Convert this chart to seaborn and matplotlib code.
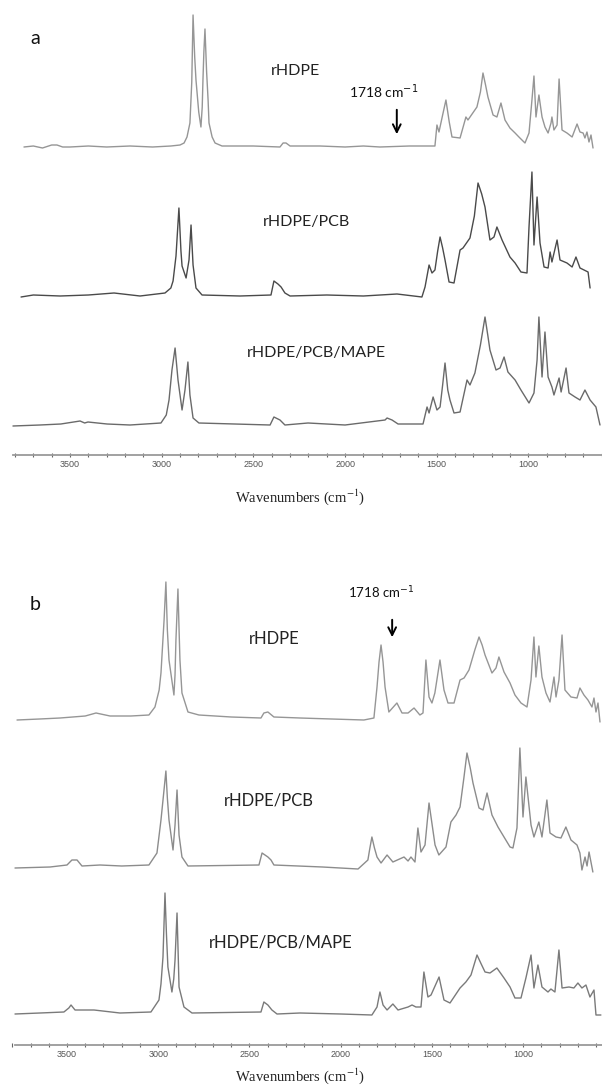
import numpy as np
import pandas as pd
import matplotlib
matplotlib.use("Agg")
import matplotlib.pyplot as plt
from matplotlib.ticker import MultipleLocator
import seaborn as sns

# ---------------- FTIR spectra (wavenumber in cm-1, absorbance in a.u.) ----------------
# panel a
a_rhdpe_wn = [3751, 3700, 3650, 3600, 3571, 3540, 3500, 3400, 3300, 3173, 3050, 2950, 2900, 2878,
              2862, 2846, 2836, 2829, 2820, 2813, 2798, 2786, 2779, 2775, 2770, 2764, 2755, 2747,
              2742, 2725, 2709, 2671, 2500, 2355, 2338, 2322, 2300, 2137, 2000, 1900, 1810, 1650,
              1537, 1510, 1499, 1488, 1468, 1450, 1432, 1417, 1373, 1341, 1330, 1281, 1262, 1248,
              1234, 1221, 1193, 1172, 1150, 1128, 1101, 1073, 1052, 1019, 997, 981, 970, 959, 943,
              926, 910, 893, 877, 872, 861, 844, 833, 817, 790, 762, 735, 719, 702, 692, 681, 670,
              659, 648]
a_rhdpe_abs = [0.00, 0.01, -0.01, 0.02, 0.02, 0.00, 0.00, 0.01, 0.00, 0.01, 0.00, 0.01, 0.02, 0.04,
               0.10, 0.24, 0.65, 1.32, 0.90, 0.67, 0.35, 0.20, 0.40, 0.67, 0.95, 1.18, 0.75, 0.47,
               0.24, 0.10, 0.04, 0.01, 0.01, 0.00, 0.04, 0.04, 0.01, 0.01, 0.00, 0.01, 0.00, 0.01,
               0.01, 0.01, 0.22, 0.15, 0.32, 0.47, 0.25, 0.10, 0.09, 0.30, 0.27, 0.40, 0.55, 0.74,
               0.62, 0.50, 0.32, 0.30, 0.44, 0.27, 0.19, 0.14, 0.10, 0.04, 0.14, 0.47, 0.71, 0.30,
               0.52, 0.30, 0.20, 0.14, 0.24, 0.30, 0.17, 0.22, 0.68, 0.17, 0.14, 0.10, 0.23, 0.15,
               0.14, 0.09, 0.15, 0.05, 0.12, -0.01]

a_pcb_wn = [3767, 3700, 3554, 3400, 3260, 3118, 2982, 2950, 2938, 2922, 2906, 2895, 2889, 2867,
            2851, 2840, 2829, 2813, 2780, 2573, 2404, 2388, 2366, 2349, 2328, 2300, 2100, 1900,
            1717, 1581, 1564, 1542, 1526, 1510, 1495, 1482, 1468, 1455, 1433, 1406, 1373, 1357,
            1319, 1295, 1275, 1255, 1237, 1210, 1188, 1172, 1144, 1101, 1073, 1041, 1008, 997, 981,
            970, 953, 937, 915, 893, 882, 872, 844, 828, 790, 762, 741, 719, 697, 675, 664]
a_pcb_abs = [-0.01, 0.01, 0.00, 0.01, 0.03, 0.00, 0.03, 0.08, 0.15, 0.40, 0.88, 0.45, 0.30, 0.18,
             0.36, 0.71, 0.31, 0.08, 0.01, 0.00, 0.01, 0.15, 0.12, 0.09, 0.03, 0.00, 0.01, 0.00,
             0.02, -0.01, 0.09, 0.31, 0.23, 0.26, 0.45, 0.59, 0.48, 0.36, 0.14, 0.13, 0.46, 0.48,
             0.58, 0.80, 1.13, 1.02, 0.89, 0.56, 0.59, 0.69, 0.56, 0.39, 0.33, 0.24, 0.23, 0.69,
             1.24, 0.51, 0.99, 0.53, 0.29, 0.28, 0.44, 0.34, 0.56, 0.36, 0.33, 0.29, 0.39, 0.28,
             0.26, 0.24, 0.08]

a_mape_wn = [3811, 3664, 3550, 3445, 3420, 3402, 3298, 3173, 3004, 2975, 2960, 2944, 2927, 2911,
             2889, 2873, 2857, 2846, 2829, 2797, 2409, 2388, 2355, 2328, 2202, 2000, 1782, 1771,
             1744, 1711, 1575, 1553, 1542, 1520, 1499, 1482, 1468, 1455, 1440, 1428, 1406, 1373,
             1335, 1319, 1292, 1262, 1237, 1222, 1210, 1177, 1155, 1133, 1112, 1073, 1041, 997,
             970, 953, 943, 926, 910, 893, 872, 861, 833, 822, 795, 779, 746, 719, 692, 664, 632,
             610]
a_mape_abs = [-0.01, 0.00, 0.01, 0.04, 0.02, 0.03, 0.01, 0.00, 0.02, 0.10, 0.25, 0.55, 0.77, 0.45,
              0.15, 0.35, 0.63, 0.30, 0.07, 0.02, 0.00, 0.08, 0.05, 0.00, 0.02, 0.00, 0.05, 0.07,
              0.05, 0.01, 0.01, 0.18, 0.12, 0.28, 0.15, 0.18, 0.40, 0.62, 0.35, 0.25, 0.12, 0.13,
              0.45, 0.40, 0.52, 0.80, 1.08, 0.90, 0.75, 0.55, 0.57, 0.68, 0.53, 0.45, 0.35, 0.22,
              0.32, 0.65, 1.08, 0.48, 0.93, 0.48, 0.38, 0.30, 0.47, 0.33, 0.57, 0.32, 0.28, 0.25,
              0.35, 0.25, 0.18, 0.00]

# panel b
b_rhdpe_wn = [3774, 3650, 3538, 3400, 3341, 3264, 3150, 3051, 3018, 2995, 2985, 2968, 2958, 2950,
              2941, 2914, 2908, 2903, 2892, 2885, 2881, 2870, 2837, 2777, 2600, 2437, 2421, 2399,
              2366, 2223, 2050, 1873, 1818, 1801, 1790, 1779, 1768, 1757, 1736, 1692, 1664, 1631,
              1598, 1566, 1549, 1533, 1516, 1500, 1484, 1456, 1434, 1412, 1379, 1346, 1324, 1297,
              1265, 1242, 1225, 1209, 1171, 1149, 1133, 1105, 1072, 1045, 1012, 979, 957, 941,
              930, 914, 897, 875, 853, 831, 820, 804, 787, 771, 738, 705, 689, 667, 645, 623, 612,
              601, 590, 579]
b_rhdpe_abs = [0.00, 0.01, 0.02, 0.04, 0.07, 0.04, 0.04, 0.05, 0.13, 0.30, 0.47, 1.00, 1.38, 0.90,
               0.60, 0.25, 0.45, 0.80, 1.31, 0.85, 0.60, 0.27, 0.08, 0.05, 0.03, 0.02, 0.07, 0.08,
               0.03, 0.02, 0.01, 0.00, 0.02, 0.33, 0.58, 0.75, 0.58, 0.33, 0.08, 0.17, 0.07, 0.07,
               0.12, 0.05, 0.07, 0.60, 0.23, 0.17, 0.27, 0.60, 0.30, 0.17, 0.17, 0.40, 0.42, 0.50,
               0.70, 0.83, 0.75, 0.65, 0.47, 0.52, 0.63, 0.48, 0.37, 0.25, 0.17, 0.13, 0.40, 0.83,
               0.43, 0.74, 0.43, 0.27, 0.18, 0.43, 0.23, 0.40, 0.85, 0.30, 0.23, 0.22, 0.32, 0.25,
               0.20, 0.13, 0.22, 0.08, 0.17, -0.02]

b_pcb_wn = [3785, 3593, 3500, 3473, 3445, 3418, 3319, 3200, 3051, 3007, 2985, 2970, 2958, 2950,
            2941, 2919, 2908, 2897, 2886, 2870, 2837, 2448, 2431, 2399, 2382, 2366, 2100, 1905,
            1851, 1840, 1829, 1815, 1801, 1779, 1746, 1714, 1653, 1631, 1615, 1593, 1577, 1560,
            1538, 1516, 1483, 1462, 1423, 1396, 1368, 1346, 1325, 1308, 1290, 1275, 1242, 1220,
            1198, 1171, 1138, 1105, 1072, 1056, 1034, 1018, 1001, 985, 957, 941, 914, 897, 870,
            853, 820, 793, 766, 738, 705, 689, 678, 661, 650, 639, 618]
b_pcb_abs = [0.00, 0.01, 0.03, 0.08, 0.08, 0.02, 0.03, 0.02, 0.03, 0.15, 0.48, 0.75, 0.97, 0.70,
             0.48, 0.18, 0.43, 0.78, 0.33, 0.11, 0.02, 0.03, 0.15, 0.11, 0.08, 0.03, 0.01, -0.01,
             0.08, 0.20, 0.31, 0.20, 0.11, 0.05, 0.13, 0.06, 0.11, 0.07, 0.11, 0.06, 0.40, 0.16,
             0.23, 0.65, 0.23, 0.13, 0.21, 0.46, 0.53, 0.61, 0.90, 1.15, 1.00, 0.85, 0.60, 0.58,
             0.75, 0.53, 0.41, 0.31, 0.21, 0.20, 0.40, 1.20, 0.51, 0.91, 0.43, 0.31, 0.46, 0.31,
             0.68, 0.35, 0.31, 0.30, 0.41, 0.28, 0.23, 0.15, -0.02, 0.11, 0.02, 0.16, -0.04]

b_mape_wn = [3785, 3648, 3517, 3490, 3478, 3456, 3352, 3210, 3040, 2996, 2985, 2974, 2963, 2955,
             2947, 2925, 2915, 2908, 2897, 2890, 2886, 2859, 2815, 2437, 2421, 2399, 2377, 2349,
             2223, 2000, 1829, 1801, 1785, 1768, 1746, 1714, 1686, 1631, 1609, 1588, 1560, 1544,
             1522, 1505, 1461, 1434, 1401, 1346, 1314, 1286, 1253, 1230, 1209, 1182, 1144, 1105,
             1072, 1045, 1012, 985, 957, 941, 919, 897, 864, 848, 826, 804, 787, 749, 722, 700,
             678, 656, 634, 612, 601, 574]
b_mape_abs = [0.00, 0.01, 0.02, 0.06, 0.09, 0.04, 0.04, 0.01, 0.02, 0.14, 0.30, 0.57, 1.21, 0.80,
              0.47, 0.22, 0.35, 0.54, 1.01, 0.55, 0.27, 0.07, 0.01, 0.02, 0.12, 0.09, 0.04, 0.00,
              0.01, 0.00, -0.01, 0.07, 0.22, 0.09, 0.04, 0.10, 0.04, 0.07, 0.09, 0.07, 0.07, 0.42,
              0.17, 0.19, 0.37, 0.14, 0.11, 0.26, 0.32, 0.39, 0.59, 0.50, 0.42, 0.41, 0.46, 0.36,
              0.27, 0.16, 0.16, 0.36, 0.59, 0.26, 0.49, 0.27, 0.22, 0.25, 0.22, 0.64, 0.26, 0.27,
              0.26, 0.31, 0.26, 0.29, 0.17, 0.24, -0.01, -0.01]

sample_names = ["rHDPE", "rHDPE/PCB", "rHDPE/PCB/MAPE"]
panel_letters = ["a", "b"]
carbonyl_wn = 1718
major_ticks = [3500, 3000, 2500, 2000, 1500, 1000]

# ---------------- figure ----------------
sns.set_theme(style="white")
plt.rcParams["font.family"] = ["Lato", "DejaVu Sans"]

W, H = 602, 1088
fig = plt.figure(figsize=(W / 100, H / 100), dpi=100, facecolor="white")


def fx(px):
    return px / W


def fy(py):
    return 1 - py / H


def draw_panel(ax, traces, xlim, ylim, bounds):
    for wn, ab, off, color in traces:
        df = pd.DataFrame({"wn": wn, "absorbance": np.asarray(ab) + off})
        sns.lineplot(data=df, x="wn", y="absorbance", sort=False, estimator=None,
                     color=color, lw=1.0, ax=ax)
    ax.set_xlim(*xlim)
    ax.set_ylim(*ylim)
    for side in ("left", "top", "right"):
        ax.spines[side].set_visible(False)
    sp = ax.spines["bottom"]
    sp.set_bounds(*bounds)
    sp.set_color("#9a9a9a")
    sp.set_linewidth(1.3)
    ax.set_xticks(major_ticks)
    ax.set_xticklabels([str(t) for t in major_ticks], fontfamily="Liberation Sans")
    ax.xaxis.set_minor_locator(MultipleLocator(100))
    ax.tick_params(axis="x", which="both", direction="inout", length=3, width=0.8,
                   color="#666666", labelsize=6.5, labelcolor="#555555", pad=2, bottom=True)
    ax.set_yticks([])
    ax.set_xlabel("")
    ax.set_ylabel("")
    ax.patch.set_alpha(0)


# panel a
ax_a = fig.add_axes([0, fy(455), 1, 455 / H])
draw_panel(ax_a,
           [(a_rhdpe_wn, a_rhdpe_abs, 3.08, "#969696"),
            (a_pcb_wn, a_pcb_abs, 1.59, "#4a4a4a"),
            (a_mape_wn, a_mape_abs, 0.30, "#6a6a6a")],
           xlim=(3881.7, 599.0), ylim=(0, 4.55), bounds=(3810, 599))

# panel b
ax_b = fig.add_axes([0, fy(1045), 1, 490 / H])
draw_panel(ax_b,
           [(b_rhdpe_wn, b_rhdpe_abs, 3.25, "#969696"),
            (b_pcb_wn, b_pcb_abs, 1.77, "#8c8c8c"),
            (b_mape_wn, b_mape_abs, 0.31, "#7a7a7a")],
           xlim=(3867.2, 568.0), ylim=(0, 4.90), bounds=(3785, 568))

# carbonyl markers
arrow_kw = dict(arrowstyle="->", lw=1.4, color="black", mutation_scale=14)
ax_a.annotate("", xy=(carbonyl_wn, 3.18), xytext=(carbonyl_wn, 3.48), arrowprops=arrow_kw)
ax_b.annotate("", xy=(carbonyl_wn, 4.05), xytext=(carbonyl_wn, 4.28), arrowprops=arrow_kw)
fig.text(fx(384), fy(92), f"{carbonyl_wn} cm$^{{-1}}$", ha="center", va="center",
         fontsize=10, math_fontfamily="dejavusans", color="#111111")
fig.text(fx(381), fy(593), f"{carbonyl_wn} cm$^{{-1}}$", ha="center", va="center",
         fontsize=9.5, math_fontfamily="dejavusans", color="#111111")

# panel letters
fig.text(fx(35), fy(39), panel_letters[0], ha="center", va="center", fontsize=14, color="#111111")
fig.text(fx(35), fy(604), panel_letters[1], ha="center", va="center", fontsize=14, color="#111111")

# sample names
name_pos_a = [(295, 71), (306, 222), (316, 353)]
name_pos_b = [(274, 639), (269, 800), (281, 942)]
for name, (x, y) in zip(sample_names, name_pos_a):
    fig.text(fx(x), fy(y), name, ha="center", va="center", fontsize=11.5, color="#222222")
for name, (x, y) in zip(sample_names, name_pos_b):
    fig.text(fx(x), fy(y), name, ha="center", va="center", fontsize=12, color="#222222")

# axis titles
for y in (497, 1076):
    fig.text(fx(300), fy(y), "Wavenumbers (cm$^{-1}$)", ha="center", va="center",
             fontsize=10.5, family="Liberation Serif", math_fontfamily="stix", color="#222222")

fig.savefig("out.png", dpi=100, facecolor="white")
